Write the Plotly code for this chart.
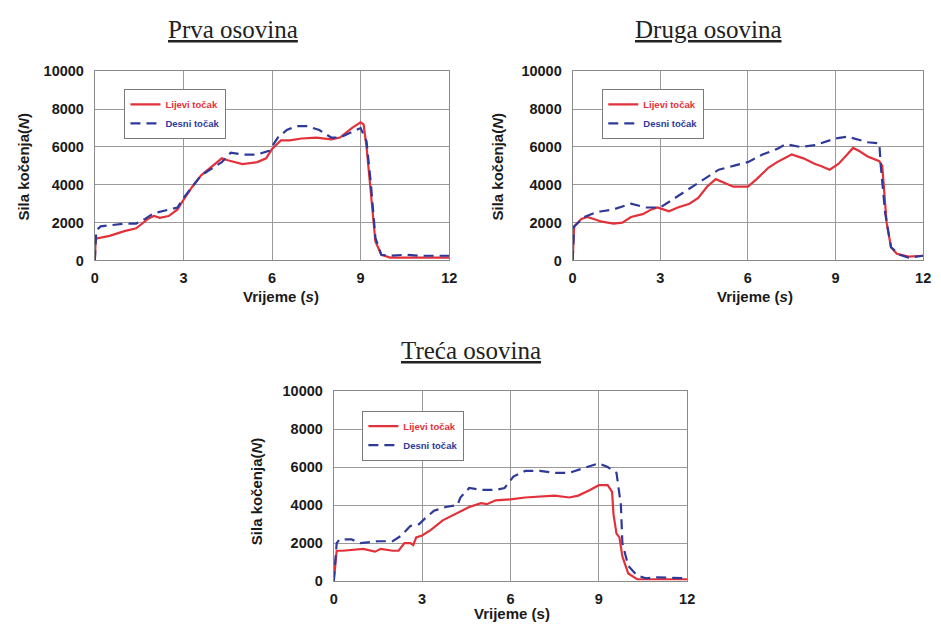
import plotly.graph_objects as go

W, H = 941, 633

# ---------------- data ----------------
# Prva osovina
t1_left = [0, 0.03, 0.5, 1.0, 1.4, 1.8, 2.0, 2.2, 2.5, 2.8, 3.0, 3.3, 3.6, 4.0, 4.3, 4.5, 4.8, 5.0, 5.5, 5.8,
           6.0, 6.3, 6.6, 7.0, 7.5, 8.0, 8.3, 8.7, 9.0, 9.1, 9.2, 9.35, 9.5, 9.7, 10.0, 12.0]
f1_left = [0, 1150, 1300, 1550, 1700, 2200, 2350, 2250, 2350, 2700, 3200, 3900, 4500, 5000, 5400, 5300, 5200, 5100, 5200, 5400,
           5900, 6350, 6350, 6450, 6500, 6400, 6500, 7000, 7300, 7200, 6000, 3500, 1000, 300, 150, 150]
t1_right = [0, 0.05, 0.2, 0.5, 1.0, 1.4, 1.7, 2.0, 2.5, 2.8, 3.0, 3.3, 3.6, 4.0, 4.3, 4.6, 5.0, 5.5, 5.9, 6.2,
            6.5, 6.8, 7.2, 7.6, 8.0, 8.3, 8.7, 9.0, 9.2, 9.35, 9.5, 9.7, 10.0, 10.5, 11.0, 12.0]
f1_right = [0, 1600, 1800, 1850, 1950, 1950, 2200, 2500, 2700, 2800, 3300, 3900, 4500, 4900, 5200, 5700, 5600, 5600, 5800, 6500,
            6900, 7100, 7100, 6900, 6500, 6500, 6800, 7000, 6300, 4000, 1200, 300, 250, 300, 250, 250]

# Druga osovina
t2_left = [0, 0.05, 0.3, 0.5, 0.8, 1.0, 1.4, 1.7, 2.0, 2.4, 2.7, 2.9, 3.1, 3.3, 3.6, 4.0, 4.3, 4.6, 4.9, 5.2, 5.5, 6.0,
           6.3, 6.7, 7.0, 7.5, 7.9, 8.3, 8.5, 8.8, 9.1, 9.4, 9.6, 9.8, 10.1, 10.5, 10.6, 10.75, 10.9, 11.1, 11.5, 12.0]
f2_left = [0, 1800, 2200, 2300, 2150, 2050, 1950, 2000, 2300, 2450, 2700, 2800, 2700, 2600, 2800, 3000, 3300, 3900, 4300, 4100, 3900, 3900,
           4300, 4900, 5200, 5600, 5400, 5100, 5000, 4800, 5100, 5600, 5950, 5800, 5500, 5250, 5000, 2000, 700, 350, 200, 250]
t2_right = [0, 0.05, 0.4, 0.8, 1.0, 1.4, 2.0, 2.3, 2.5, 3.0, 3.3, 3.7, 4.1, 4.5, 5.0, 5.5, 6.0, 6.5, 7.0, 7.3, 7.8,
            8.3, 8.7, 9.0, 9.4, 9.8, 10.1, 10.5, 10.55, 10.7, 10.9, 11.2, 11.5, 12.0]
f2_right = [0, 1800, 2300, 2550, 2600, 2700, 3000, 2900, 2800, 2800, 3100, 3500, 3900, 4300, 4800, 5000, 5200, 5600, 5900, 6150, 6000,
            6100, 6300, 6450, 6550, 6400, 6250, 6200, 5000, 2500, 700, 300, 150, 250]

# Treća osovina
t3_left = [0, 0.1, 0.3, 0.7, 1.0, 1.4, 1.6, 2.0, 2.2, 2.4, 2.6, 2.7, 2.8, 3.0, 3.3, 3.7, 4.2, 4.6, 5.0, 5.2, 5.5, 6.0,
           6.5, 7.0, 7.5, 8.0, 8.3, 8.7, 9.0, 9.3, 9.45, 9.5, 9.6, 9.7, 9.8, 10.0, 10.3, 12.0]
f3_left = [0, 1600, 1600, 1650, 1700, 1550, 1700, 1600, 1600, 2000, 2000, 1900, 2300, 2400, 2700, 3200, 3600, 3900, 4100, 4050, 4250, 4300,
           4400, 4450, 4500, 4400, 4500, 4800, 5050, 5050, 4700, 3500, 2500, 2300, 1300, 400, 100, 100]
t3_right = [0, 0.1, 0.2, 0.6, 0.9, 1.5, 2.0, 2.3, 2.6, 2.9, 3.1, 3.4, 3.8, 4.2, 4.3, 4.6, 5.0, 5.5, 5.8, 6.1, 6.5, 7.0,
            7.5, 8.0, 8.4, 8.8, 9.0, 9.3, 9.6, 9.75, 9.8, 10.0, 10.3, 10.6, 11.0, 12.0]
f3_right = [0, 2000, 2200, 2200, 2000, 2100, 2100, 2400, 2900, 3000, 3300, 3700, 3900, 4000, 4400, 4900, 4800, 4800, 4900, 5500, 5800, 5800,
            5700, 5700, 5900, 6100, 6200, 6000, 5700, 4000, 2000, 800, 300, 150, 200, 150]

titles = ["Prva osovina", "Druga osovina", "Treća osovina"]
legend_names = ["Lijevi točak", "Desni točak"]
x_ticks = [0, 3, 6, 9, 12]
y_ticks = [0, 2000, 4000, 6000, 8000, 10000]

RED = "#e2313a"
BLUE = "#2e3a9a"

def px(x):
    return x / W

def py(y):
    return 1 - y / H

boxes = [(92, 451, 65, 259), (576, 931, 65, 259), (334, 692, 393, 588)]
legend_pos = [(122, 83), (606, 83), (363, 413)]
title_pos = [(232, 22), (714, 22), (473, 351)]
xtitle_pos = [(281, 296), (761, 296), (515, 621)]
ytitle_pos = [(20, 163), (500, 163), (256, 496)]
xtitle_text = ["Vrijeme (<i>s</i>)", "Vrijeme (<i>s</i>)", "Vrijeme (s)"]

series = [
    (t1_left, f1_left, t1_right, f1_right),
    (t2_left, f2_left, t2_right, f2_right),
    (t3_left, f3_left, t3_right, f3_right),
]

fig = go.Figure()
layout = dict(
    width=W, height=H, margin=dict(l=0, r=0, t=0, b=0),
    paper_bgcolor="white", plot_bgcolor="white", showlegend=True,
    font=dict(family="Liberation Sans, Arial", color="#1a1a1a"),
)
annotations = []

tick_font = dict(family="Liberation Sans, Arial", size=14.5, color="#1a1a1a")

for i, (tl, fl, tr, fr) in enumerate(series):
    sfx = "" if i == 0 else str(i + 1)
    lg = "legend" if i == 0 else f"legend{i + 1}"
    fig.add_trace(go.Scatter(
        x=tl, y=fl, mode="lines", xaxis="x" + sfx, yaxis="y" + sfx, legend=lg,
        name=f"<span style='color:{RED}'><b>{legend_names[0]}</b></span>",
        line=dict(color=RED, width=2.2)))
    fig.add_trace(go.Scatter(
        x=tr, y=fr, mode="lines", xaxis="x" + sfx, yaxis="y" + sfx, legend=lg,
        name=f"<span style='color:{BLUE}'><b>{legend_names[1]}</b></span>",
        line=dict(color=BLUE, width=2.2, dash="10px,6px")))

    l, r, t, b = boxes[i]
    layout["xaxis" + sfx] = dict(
        domain=[px(l), px(r)], anchor="y" + sfx, range=[0, 12],
        tickvals=x_ticks, ticktext=[f"<b>{v}</b>" for v in x_ticks],
        tickfont=tick_font, showgrid=True, gridcolor="#9a9a9a", gridwidth=1,
        showline=True, linecolor="#8a8a8a", linewidth=1, mirror=True,
        zeroline=False, ticks="", ticklen=0, ticklabelstandoff=4)
    layout["yaxis" + sfx] = dict(
        domain=[py(b), py(t)], anchor="x" + sfx, range=[0, 10000],
        tickvals=y_ticks, ticktext=[f"<b>{v}</b>" for v in y_ticks],
        tickfont=tick_font, showgrid=True, gridcolor="#9a9a9a", gridwidth=1,
        showline=True, linecolor="#8a8a8a", linewidth=1, mirror=True,
        zeroline=False, ticks="", ticklen=0, ticklabelstandoff=7)

    lx, ly = legend_pos[i]
    layout[lg] = dict(
        x=px(lx), y=py(ly), xanchor="left", yanchor="top",
        bgcolor="white", bordercolor="#7a7a7a", borderwidth=1,
        font=dict(family="Liberation Sans, Arial", size=9.5),
        tracegroupgap=0, itemwidth=30)

    tx, ty = title_pos[i]
    annotations.append(dict(
        x=px(tx), y=py(ty), xref="paper", yref="paper", showarrow=False,
        text=f"<u>{titles[i]}</u>", xanchor="center", yanchor="middle",
        font=dict(family="Liberation Serif, Times New Roman", size=25, color="#222")))
    ax, ay = xtitle_pos[i]
    annotations.append(dict(
        x=px(ax), y=py(ay), xref="paper", yref="paper", showarrow=False,
        text=f"<b>{xtitle_text[i]}</b>", xanchor="center", yanchor="middle",
        font=dict(family="Liberation Sans, Arial", size=15, color="#1a1a1a")))
    yx, yy = ytitle_pos[i]
    annotations.append(dict(
        x=px(yx), y=py(yy), xref="paper", yref="paper", showarrow=False,
        text="<b>Sila kočenja(<i>N</i>)</b>", textangle=-90,
        xanchor="center", yanchor="middle",
        font=dict(family="Liberation Sans, Arial", size=15, color="#1a1a1a")))

layout["annotations"] = annotations
fig.update_layout(**layout)
fig.write_html("out.html")
